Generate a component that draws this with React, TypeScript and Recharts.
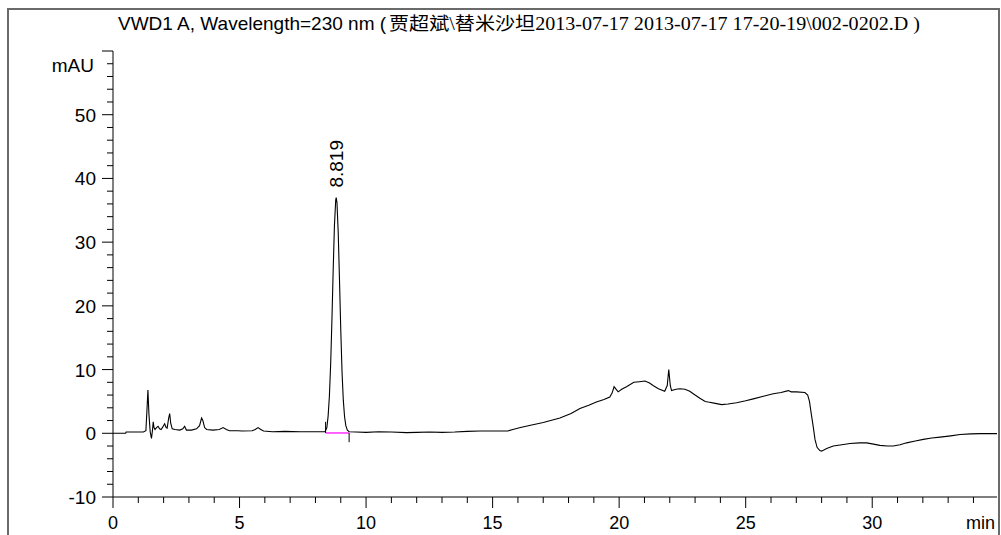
import React from "react";
import {
  LineChart,
  Line,
  XAxis,
  YAxis,
  ReferenceLine,
  ReferenceDot,
} from "recharts";

// retention time (min) and detector signal (mAU)
const TIME_MIN = [
  0.0, 0.5, 0.52, 1.2, 1.3, 1.34, 1.38, 1.42, 1.47, 1.52, 1.56, 1.59, 1.62, 1.66, 1.72, 1.78, 1.84, 1.9,
  1.97, 2.04, 2.1, 2.14, 2.2, 2.24, 2.28, 2.34, 2.45, 2.64, 2.76, 2.83, 2.9, 3.1, 3.3, 3.42, 3.5, 3.55,
  3.62, 3.7, 3.95, 4.2, 4.35, 4.48, 4.6, 4.94, 5.1, 5.5, 5.62, 5.73, 5.84, 5.95, 6.3, 6.8, 7.4, 8.0,
  8.38, 8.45, 8.5, 8.55, 8.6, 8.65, 8.7, 8.75, 8.8, 8.82, 8.85, 8.9, 8.95, 9.0, 9.05, 9.1, 9.15, 9.2,
  9.26, 9.33, 9.6, 10.0, 10.5, 11.0, 11.6, 12.0, 12.5, 13.0, 13.5, 14.0, 14.5, 15.0, 15.6, 15.8, 16.1,
  16.5, 17.0, 17.66, 18.1, 18.45, 18.8, 19.1, 19.4, 19.63, 19.72, 19.8, 19.86, 19.96, 20.1, 20.29,
  20.58, 20.8, 21.02, 21.2, 21.34, 21.55, 21.8, 21.9, 21.96, 22.02, 22.07, 22.25, 22.4, 22.6, 22.79,
  23.0, 23.19, 23.4, 23.52, 23.8, 24.05, 24.3, 24.64, 25.0, 25.3, 25.7, 26.09, 26.4, 26.68, 26.8, 27.0,
  27.34, 27.45, 27.52, 27.6, 27.67, 27.74, 27.82, 27.93, 28.0, 28.2, 28.46, 28.8, 29.12, 29.5, 29.78,
  30.05, 30.3, 30.6, 30.83, 31.1, 31.36, 31.7, 32.02, 32.35, 32.68, 33.1, 33.47, 33.9, 34.26, 34.93,
];

const SIGNAL_MAU = [
  0.0, 0.0, 0.2, 0.2, 0.4, 3.5, 6.8, 3.0, 0.2, -0.8, 0.5, 1.8, 0.9, 0.6, 0.9, 1.1, 0.7, 0.6,
  1.0, 1.5, 0.9, 0.8, 2.4, 3.1, 1.6, 0.7, 0.6, 0.5, 0.7, 1.1, 0.5, 0.5, 0.7, 1.2, 2.4, 2.0,
  0.9, 0.6, 0.5, 0.6, 0.9, 0.6, 0.4, 0.4, 0.35, 0.4, 0.6, 0.9, 0.6, 0.35, 0.25, 0.3, 0.25, 0.25,
  0.25, 0.9, 2.7, 5.8, 10.8, 17.7, 25.6, 32.6, 36.6, 37.0, 36.2, 31.4, 24.0, 16.2, 9.6, 5.2, 2.6, 1.2,
  0.5, 0.25, 0.2, 0.15, 0.25, 0.2, 0.1, 0.15, 0.2, 0.15, 0.2, 0.3, 0.35, 0.35, 0.36, 0.6, 0.9,
  1.25, 1.7, 2.4, 3.1, 3.9, 4.4, 4.9, 5.3, 5.7, 6.3, 7.3, 7.0, 6.5, 6.9, 7.3,
  8.0, 8.1, 8.2, 7.9, 7.5, 7.0, 6.6, 7.5, 10.0, 7.5, 6.7, 6.9, 7.0, 6.9, 6.6,
  6.0, 5.5, 5.0, 4.9, 4.7, 4.5, 4.6, 4.8, 5.1, 5.4, 5.8, 6.2, 6.4, 6.7, 6.5, 6.5,
  6.4, 6.0, 5.0, 2.8, 1.0, -1.0, -2.2, -2.7, -2.8, -2.4, -2.0, -1.8, -1.6, -1.5, -1.5,
  -1.7, -1.9, -2.0, -2.0, -1.8, -1.5, -1.2, -0.95, -0.75, -0.6, -0.4, -0.2, -0.1, -0.05, -0.05,
];

const X_TICKS = Array.from({ length: 35 }, (_, i) => i);
const Y_TICKS = Array.from({ length: 36 }, (_, i) => -10 + i * 2);

const PEAK_RT = 8.819;
const PEAK_HEIGHT = 37.0;
const PEAK_START = 8.4;
const PEAK_END = 9.33;
const PEAK_BASE = 0.05;

const data = TIME_MIN.map((t, i) => ({ t, v: SIGNAL_MAU[i] }));

const FONT = "'Liberation Sans', Arial, sans-serif";

function XTick({ x, y, payload }: any) {
  const v = payload.value as number;
  const major = v % 5 === 0;
  return (
    <g>
      <line x1={x} y1={y} x2={x} y2={y + (major ? 11 : 6)} stroke="#000" />
      {major && (
        <text x={x} y={y + 32} textAnchor="middle" fontFamily={FONT} fontSize={18} fill="#000">
          {v}
        </text>
      )}
    </g>
  );
}

function YTick({ x, y, payload }: any) {
  const v = payload.value as number;
  const major = v % 10 === 0;
  return (
    <g>
      <line x1={x - (major ? 11 : 6)} y1={y} x2={x} y2={y} stroke="#000" />
      {major && v !== 60 && (
        <text x={x - 17} y={y + 7} textAnchor="end" fontFamily={FONT} fontSize={19} fill="#000">
          {v}
        </text>
      )}
    </g>
  );
}

export default function App() {
  return (
    <div style={{ position: "absolute", left: 0, top: 0, width: 1001, height: 535, background: "#fff", overflow: "hidden" }}>
      {/* outer frame */}
      <div
        style={{
          position: "absolute",
          left: 7,
          top: 8,
          width: 989,
          height: 540,
          border: "2px solid #6a6a6a",
          borderBottom: "none",
        }}
      />
      <svg width={1001} height={40} style={{ position: "absolute", left: 0, top: 0 }}>
        <text x={118} y={30} fontFamily={FONT} fontSize={19} fill="#000">
          VWD1 A, Wavelength=230 nm (
        </text>
        <text
          x={389}
          y={30}
          fontFamily="'Liberation Serif', 'Noto Sans CJK SC', serif"
          fontSize={18}
          fill="#000"
          textLength={531}
          lengthAdjust="spacingAndGlyphs"
        >
          贾超斌\替米沙坦2013-07-17 2013-07-17 17-20-19\002-0202.D )
        </text>
      </svg>
      <div style={{ position: "absolute", left: 0, top: 0 }}>
        <LineChart width={1001} height={535} data={data} margin={{ top: 51, right: 4, bottom: 0, left: 0 }}>
          <XAxis
            type="number"
            dataKey="t"
            domain={[0, 34.93]}
            ticks={X_TICKS}
            allowDataOverflow
            height={38}
            tickSize={0}
            tickMargin={0}
            tickLine={false}
            axisLine={{ stroke: "#000" }}
            tick={<XTick />}
            interval={0}
            label={(p: any) => {
              const vb = p.viewBox;
              return (
                <text x={vb.x + vb.width - 2} y={vb.y + 32} textAnchor="end" fontFamily={FONT} fontSize={18} fill="#000">
                  min
                </text>
              );
            }}
          />
          <YAxis
            type="number"
            domain={[-10, 60]}
            ticks={Y_TICKS}
            allowDataOverflow
            width={113}
            tickSize={0}
            tickMargin={0}
            tickLine={false}
            axisLine={{ stroke: "#000" }}
            tick={<YTick />}
            interval={0}
            label={(p: any) => {
              const vb = p.viewBox;
              return (
                <text x={vb.x + vb.width - 19} y={vb.y + 21} textAnchor="end" fontFamily={FONT} fontSize={19} fill="#000">
                  mAU
                </text>
              );
            }}
          />
          <Line
            type="linear"
            dataKey="v"
            stroke="#000"
            strokeWidth={1.1}
            dot={false}
            isAnimationActive={false}
          />
          <ReferenceLine
            segment={[{ x: PEAK_START, y: PEAK_BASE }, { x: PEAK_END, y: PEAK_BASE }]}
            stroke="#ff30ff"
            strokeWidth={1.5}
          />
          <ReferenceLine
            segment={[{ x: PEAK_START, y: PEAK_BASE }, { x: PEAK_START, y: 1.8 }]}
            stroke="#000"
          />
          <ReferenceLine
            segment={[{ x: PEAK_END, y: PEAK_BASE }, { x: PEAK_END, y: -1.4 }]}
            stroke="#000"
          />
          <ReferenceDot
            x={PEAK_RT}
            y={PEAK_HEIGHT}
            r={0}
            shape={(p: any) => (
              <text
                x={p.cx + 7}
                y={p.cy - 10}
                transform={`rotate(-90 ${p.cx + 7} ${p.cy - 10})`}
                fontFamily={FONT}
                fontSize={19}
                fill="#000"
              >
                {PEAK_RT.toFixed(3)}
              </text>
            )}
          />
        </LineChart>
      </div>
    </div>
  );
}
